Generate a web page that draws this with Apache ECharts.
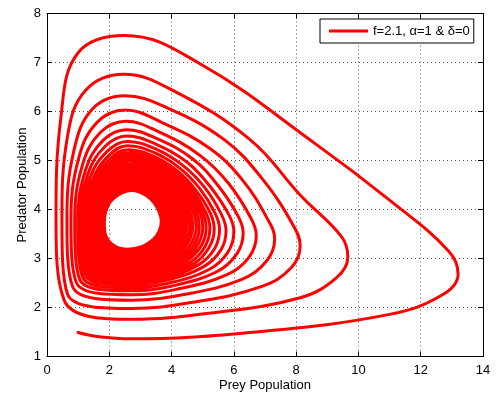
<!DOCTYPE html>
<html>
<head>
<meta charset="utf-8">
<script src="https://cdn.jsdelivr.net/npm/echarts@6/dist/echarts.min.js"></script>
<style>
  html, body { margin: 0; padding: 0; background: #fff; }
  #chart { width: 502px; height: 397px; }
</style>
</head>
<body>
<div id="chart"></div>
<script>
// Phase-plane trajectory of the predator-prey model (prey on x, predator on y).
// The orbit starts at the lower left and spirals counter-clockwise inwards.
// Each array below holds one characteristic point per turn of the spiral,
// outermost turn first; the path visits them in order on every turn.

const seriesName = 'f=2.1, \u03b1=1 & \u03b4=0';

// initial stretch before the first turn
const startLeg = [[1.00, 1.49], [1.60, 1.41]];
// last stretch after the innermost turn
const finishLeg = [[2.59, 3.19], [3.04, 3.24], [3.39, 3.38]];

// lowest point of each turn
const stBottom = [
  [2.70,1.36],[2.72,1.76],[2.72,1.98],[2.72,2.15],[2.72,2.26],[2.72,2.34],[2.71,2.40],[2.71,2.46],[2.70,2.51],[2.70,2.55],[2.70,2.59],[2.69,2.63],[2.69,2.66],
  [2.68,2.70],[2.68,2.74],[2.67,2.79],[2.66,2.82],[2.66,2.86],[2.65,2.90],[2.64,2.94],[2.64,2.97],[2.63,3.00],[2.63,3.03],[2.62,3.06],[2.62,3.08],[2.61,3.11],[2.61,3.14],[2.60,3.16],[2.60,3.19]
];
// along the lower edge, heading right
const stLowerRun = [
  [6.50,1.49],[5.14,1.88],[4.62,2.10],[4.35,2.26],[4.15,2.37],[4.02,2.44],[3.92,2.50],[3.85,2.56],[3.79,2.60],[3.73,2.64],[3.69,2.68],[3.66,2.72],[3.63,2.75],
  [3.58,2.79],[3.54,2.83],[3.49,2.87],[3.45,2.90],[3.41,2.94],[3.37,2.97],[3.33,3.00],[3.29,3.03],[3.26,3.06],[3.22,3.09],[3.20,3.12],[3.17,3.14],[3.14,3.17],[3.11,3.19],[3.08,3.22],[3.05,3.24]
];
const stLowerRight = [
  [11.00,1.86],[8.13,2.20],[6.90,2.43],[6.24,2.57],[5.78,2.67],[5.45,2.73],[5.22,2.78],[5.02,2.83],[4.86,2.87],[4.73,2.90],[4.62,2.93],[4.53,2.97],[4.45,2.99],
  [4.37,3.02],[4.28,3.05],[4.20,3.08],[4.12,3.11],[4.05,3.14],[3.98,3.17],[3.90,3.19],[3.84,3.22],[3.78,3.24],[3.72,3.26],[3.66,3.28],[3.61,3.30],[3.56,3.32],[3.51,3.34],[3.45,3.36],[3.40,3.38]
];
const stBeforeTurn = [
  [12.70,2.26],[9.30,2.61],[7.84,2.81],[7.05,2.95],[6.49,3.03],[6.09,3.09],[5.81,3.13],[5.58,3.17],[5.38,3.20],[5.21,3.23],[5.08,3.25],[4.97,3.28],[4.86,3.30],
  [4.76,3.32],[4.66,3.34],[4.56,3.36],[4.47,3.38],[4.38,3.40],[4.29,3.42],[4.20,3.44],[4.13,3.45],[4.05,3.47],[3.98,3.48],[3.92,3.50],[3.85,3.51],[3.79,3.52],[3.73,3.53],[3.66,3.55],[3.60,3.56]
];
// right-most point of each turn
const stRightmost = [
  [13.20,2.68],[9.66,3.03],[8.13,3.26],[7.31,3.40],[6.72,3.47],[6.30,3.52],[6.00,3.55],[5.75,3.57],[5.54,3.59],[5.37,3.60],[5.23,3.62],[5.11,3.63],[5.00,3.64],
  [4.89,3.65],[4.79,3.66],[4.68,3.67],[4.59,3.68],[4.49,3.69],[4.40,3.69],[4.31,3.70],[4.23,3.71],[4.15,3.72],[4.07,3.72],[4.00,3.73],[3.94,3.74],[3.87,3.74],[3.80,3.75],[3.74,3.75],[3.67,3.76]
];
const stAfterTurn = [
  [12.90,3.15],[9.45,3.45],[7.93,3.65],[7.12,3.76],[6.55,3.82],[6.14,3.86],[5.85,3.88],[5.60,3.90],[5.40,3.92],[5.24,3.93],[5.10,3.94],[4.98,3.96],[4.88,3.97],
  [4.78,3.97],[4.68,3.97],[4.57,3.97],[4.48,3.96],[4.39,3.96],[4.30,3.96],[4.21,3.96],[4.14,3.96],[4.06,3.96],[3.98,3.96],[3.92,3.96],[3.86,3.95],[3.79,3.95],[3.73,3.95],[3.66,3.95],[3.60,3.95]
];
// upper-right slope, from the turn back up to the peak
const stSlopeLow = [
  [11.00,4.19],[8.15,4.28],[6.92,4.62],[6.28,4.60],[5.82,4.54],[5.49,4.49],[5.25,4.46],[5.06,4.45],[4.90,4.43],[4.77,4.40],[4.66,4.40],[4.57,4.38],[4.48,4.37],
  [4.40,4.35],[4.31,4.33],[4.23,4.32],[4.15,4.30],[4.08,4.29],[4.00,4.27],[3.93,4.26],[3.87,4.24],[3.80,4.23],[3.74,4.22],[3.69,4.21],[3.63,4.19],[3.58,4.18],[3.53,4.17],[3.47,4.16],[3.42,4.15]
];
const stSlopeMid = [
  [8.60,5.35],[6.53,5.42],[5.70,5.42],[5.22,5.25],[4.90,5.11],[4.68,5.03],[4.51,4.96],[4.38,4.89],[4.27,4.84],[4.18,4.79],[4.11,4.75],[4.05,4.71],[3.99,4.68],
  [3.93,4.65],[3.86,4.62],[3.80,4.58],[3.75,4.56],[3.69,4.53],[3.63,4.50],[3.58,4.47],[3.53,4.45],[3.48,4.42],[3.44,4.40],[3.40,4.38],[3.36,4.36],[3.32,4.34],[3.28,4.32],[3.24,4.30],[3.20,4.28]
];
const stSlopeHigh = [
  [4.90,6.98],[4.10,6.41],[3.84,6.08],[3.71,5.77],[3.61,5.58],[3.55,5.44],[3.51,5.33],[3.47,5.24],[3.45,5.16],[3.42,5.09],[3.40,5.04],[3.39,4.99],[3.38,4.95],
  [3.35,4.90],[3.31,4.86],[3.28,4.81],[3.25,4.77],[3.22,4.73],[3.19,4.68],[3.16,4.64],[3.13,4.61],[3.10,4.57],[3.08,4.54],[3.06,4.51],[3.04,4.48],[3.01,4.45],[2.99,4.42],[2.97,4.39],[2.95,4.36]
];
// peak predator population of each turn
const stTop = [
  [2.50,7.55],[2.47,6.76],[2.50,6.32],[2.52,6.03],[2.54,5.80],[2.55,5.63],[2.56,5.50],[2.57,5.39],[2.58,5.30],[2.59,5.22],[2.60,5.16],[2.60,5.10],[2.61,5.05],
  [2.62,5.00],[2.63,4.94],[2.64,4.89],[2.64,4.85],[2.65,4.80],[2.66,4.75],[2.67,4.71],[2.67,4.67],[2.68,4.63],[2.69,4.59],[2.69,4.56],[2.70,4.52],[2.70,4.49],[2.71,4.46],[2.71,4.42],[2.72,4.39]
];
const stShoulder = [
  [1.00,7.20],[1.25,6.44],[1.46,6.05],[1.61,5.78],[1.71,5.57],[1.80,5.41],[1.87,5.29],[1.94,5.19],[2.00,5.11],[2.04,5.04],[2.08,4.98],[2.12,4.93],[2.15,4.88],
  [2.16,4.83],[2.17,4.79],[2.19,4.74],[2.20,4.70],[2.21,4.66],[2.22,4.62],[2.23,4.58],[2.24,4.54],[2.25,4.51],[2.26,4.47],[2.26,4.45],[2.27,4.42],[2.28,4.39],[2.29,4.36],[2.29,4.33],[2.30,4.30]
];
const stLeftHigh = [
  [0.45,5.90],[0.66,5.50],[0.86,5.19],[1.01,5.03],[1.13,4.89],[1.23,4.79],[1.31,4.72],[1.38,4.65],[1.46,4.60],[1.51,4.55],[1.56,4.52],[1.61,4.48],[1.65,4.46],
  [1.68,4.43],[1.70,4.40],[1.73,4.37],[1.75,4.35],[1.78,4.32],[1.80,4.30],[1.82,4.27],[1.84,4.25],[1.86,4.23],[1.88,4.21],[1.90,4.19],[1.91,4.17],[1.93,4.15],[1.95,4.14],[1.96,4.12],[1.98,4.10]
];
// left-most point (minimum prey) of each turn
const stLeftmost = [
  [0.29,3.80],[0.48,3.79],[0.64,3.78],[0.77,3.78],[0.89,3.77],[0.99,3.76],[1.07,3.75],[1.15,3.74],[1.23,3.74],[1.29,3.73],[1.34,3.73],[1.39,3.73],[1.43,3.73],
  [1.46,3.73],[1.50,3.73],[1.53,3.73],[1.56,3.74],[1.59,3.74],[1.61,3.74],[1.64,3.74],[1.67,3.74],[1.69,3.74],[1.72,3.74],[1.74,3.75],[1.76,3.75],[1.78,3.75],[1.80,3.75],[1.82,3.75],[1.84,3.75]
];
const stLowerLeft = [
  [0.55,2.15],[0.66,2.27],[0.82,2.43],[0.95,2.50],[1.06,2.56],[1.15,2.61],[1.22,2.66],[1.29,2.70],[1.36,2.74],[1.42,2.77],[1.47,2.80],[1.52,2.83],[1.56,2.86],
  [1.59,2.90],[1.63,2.94],[1.66,2.98],[1.69,3.02],[1.72,3.05],[1.75,3.09],[1.78,3.12],[1.80,3.15],[1.83,3.18],[1.85,3.21],[1.88,3.24],[1.90,3.26],[1.92,3.29],[1.94,3.31],[1.96,3.34],[1.98,3.36]
];

// axis ranges and tick steps
const xTicks = [0, 2, 4, 6, 8, 10, 12, 14];
const yTicks = [1, 2, 3, 4, 5, 6, 7, 8];

// stitch the turns together in travel order
const stations = [stBottom, stLowerRun, stLowerRight, stBeforeTurn, stRightmost, stAfterTurn,
  stSlopeLow, stSlopeMid, stSlopeHigh, stTop, stShoulder, stLeftHigh, stLeftmost, stLowerLeft];
const orbit = startLeg.slice();
for (let k = 0; k < stBottom.length; k++) {
  for (const st of stations) orbit.push(st[k]);
}
orbit.push(...finishLeg);

const FONT = '"Liberation Sans", Arial, Helvetica, sans-serif';
const chart = echarts.init(document.getElementById('chart'), null, { renderer: 'canvas' });

const gridLine = { show: true, lineStyle: { color: '#555', width: 1, type: [1, 3] } };
const boxLine = { show: true, onZero: false, lineStyle: { color: '#000', width: 1 } };
const inTick = { show: true, inside: true, length: 5, lineStyle: { color: '#000', width: 1 } };
const tickText = { color: '#000', fontSize: 13, fontFamily: FONT };

chart.setOption({
  animation: false,
  backgroundColor: '#fff',
  grid: { left: 47, top: 13.5, width: 436, height: 343, show: false },
  legend: {
    left: 320, top: 19,
    padding: [5, 4, 5, 9],
    itemWidth: 39, itemHeight: 3,
    backgroundColor: '#fff',
    borderColor: '#000', borderWidth: 1, borderRadius: 0,
    textStyle: { color: '#000', fontSize: 13, fontFamily: FONT, lineHeight: 14 },
    data: [{ name: seriesName, icon: 'rect' }]
  },
  xAxis: [
    {
      type: 'value', position: 'bottom',
      min: xTicks[0], max: xTicks[xTicks.length - 1], interval: xTicks[1] - xTicks[0],
      name: 'Prey Population', nameLocation: 'middle', nameGap: 22, nameMoveOverlap: false,
      nameTextStyle: { color: '#000', fontSize: 13, fontFamily: FONT },
      axisLine: boxLine, axisTick: inTick,
      axisLabel: Object.assign({ margin: 7 }, tickText),
      splitLine: gridLine
    },
    {
      type: 'value', position: 'top',
      min: xTicks[0], max: xTicks[xTicks.length - 1], interval: xTicks[1] - xTicks[0],
      axisLine: boxLine, axisTick: inTick,
      axisLabel: { show: false }, splitLine: { show: false }
    }
  ],
  yAxis: [
    {
      type: 'value', position: 'left',
      min: yTicks[0], max: yTicks[yTicks.length - 1], interval: yTicks[1] - yTicks[0],
      name: 'Predator Population', nameLocation: 'middle', nameGap: 18, nameMoveOverlap: false,
      nameTextStyle: { color: '#000', fontSize: 13, fontFamily: FONT },
      axisLine: boxLine, axisTick: inTick,
      axisLabel: Object.assign({ margin: 6 }, tickText),
      splitLine: gridLine
    },
    {
      type: 'value', position: 'right',
      min: yTicks[0], max: yTicks[yTicks.length - 1], interval: yTicks[1] - yTicks[0],
      axisLine: boxLine, axisTick: inTick,
      axisLabel: { show: false }, splitLine: { show: false }
    }
  ],
  series: [
    {
      name: seriesName,
      type: 'line',
      xAxisIndex: 0, yAxisIndex: 0,
      data: orbit,
      symbol: 'none',
      showSymbol: false,
      smooth: 0.4,
      clip: true,
      lineStyle: { color: '#ff0000', width: 3, join: 'round', cap: 'round' },
      itemStyle: { color: '#ff0000' },
      z: 2
    }
  ]
});
</script>
</body>
</html>
